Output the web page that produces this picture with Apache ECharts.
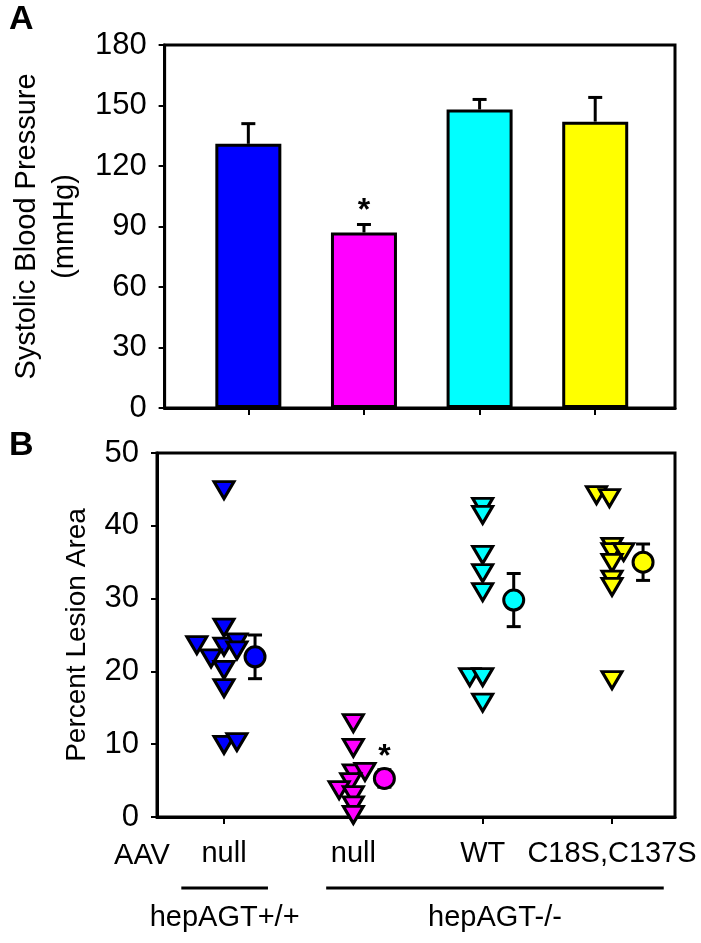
<!DOCTYPE html>
<html>
<head>
<meta charset="utf-8">
<script src="https://cdn.jsdelivr.net/npm/echarts@6/dist/echarts.min.js"></script>
<style>
  html, body { margin: 0; padding: 0; background: #fff; }
  #chart { width: 701px; height: 943px; }
</style>
</head>
<body>
<div id="chart"></div>
<script>
// groups (x positions on both panels)
const groupPos = [1, 2, 3, 4];
const aavLabels = ['null', 'null', 'WT', 'C18S,C137S'];
const groupColors = ['#0000ff', '#ff00ff', '#00ffff', '#ffff00'];

// A: systolic blood pressure (mmHg)
const bpMean = [131, 87, 148, 142];
const bpErrTop = [141, 91, 153, 154];
const bpStar = [[2, 97.5]];

// B: percent lesion area, one value per mouse + small horizontal offset
const lesionBlue = [44.9, 26.0, 23.6, 23.4, 24.0, 22.9, 21.8, 20.2, 17.7, 9.9, 10.3];
const offsetBlue = [0, 0, -0.21, 0, 0.1, 0.1, -0.1, 0, 0, 0, 0.1];
const lesionMagenta = [12.9, 9.5, 6.0, 6.2, 4.8, 3.7, 3.0, 1.6, 0.3];
const offsetMagenta = [0, 0, 0, 0.09, -0.02, -0.11, 0, 0, 0];
const lesionCyan = [42.6, 41.5, 36.0, 33.5, 30.9, 19.2, 19.2, 15.7];
const offsetCyan = [0, 0, 0, 0, 0, -0.1, 0, 0];
const lesionYellow = [44.2, 43.8, 37.1, 36.4, 36.4, 34.9, 32.6, 31.6, 18.8];
const offsetYellow = [-0.12, -0.02, 0, 0, 0.09, 0, 0, 0, 0];
const lesionMean = [22.0, 5.3, 29.8, 35.0];
const lesionSE = [3.0, 1.2, 3.65, 2.5];
const meanOffset = 0.24;
const lesionStar = [[2.24, 8.2]];

// genotype brackets under panel B
const bracketStart = [0.67, 1.79];
const bracketEnd = [1.34, 4.40];
const bracketLabels = ['hepAGT+/+', 'hepAGT-/-'];

const FONT = "'Liberation Sans', Arial, sans-serif";
const NARROW = "'Liberation Sans Narrow', 'Arial Narrow', 'Liberation Sans', sans-serif";
const chart = echarts.init(document.getElementById('chart'));

const lesionVals = [lesionBlue, lesionMagenta, lesionCyan, lesionYellow];
const lesionOffs = [offsetBlue, offsetMagenta, offsetCyan, offsetYellow];

const axisLineStyle = { color: '#000', width: 3 };
const tickStyle = { color: '#000', width: 2 };

function errorBar(params, api) {
  const x = api.value(0);
  const lo = api.coord([x, api.value(1)]);
  const hi = api.coord([x, api.value(2)]);
  const half = 7;
  const style = { stroke: '#000', lineWidth: 3 };
  return {
    type: 'group',
    children: [
      { type: 'line', shape: { x1: lo[0], y1: lo[1], x2: hi[0], y2: hi[1] }, style: style },
      { type: 'line', shape: { x1: hi[0] - half, y1: hi[1], x2: hi[0] + half, y2: hi[1] }, style: style },
      { type: 'line', shape: { x1: lo[0] - half, y1: lo[1], x2: lo[0] + half, y2: lo[1] }, style: style, invisible: api.value(3) === 0 }
    ]
  };
}

function starText(params, api) {
  const p = api.coord([api.value(0), api.value(1)]);
  return {
    type: 'text',
    x: p[0], y: p[1],
    style: { text: '*', font: 'bold 32px ' + FONT, fill: '#000', align: 'center', verticalAlign: 'middle' }
  };
}

const series = [];

// A bars
series.push({
  type: 'bar', xAxisIndex: 0, yAxisIndex: 0,
  barWidth: 66,
  data: bpMean.map((v, i) => ({
    value: [groupPos[i], v],
    itemStyle: { color: groupColors[i], borderColor: '#000', borderWidth: 3 }
  })),
  z: 2
});
series.push({
  type: 'custom', xAxisIndex: 0, yAxisIndex: 0,
  renderItem: errorBar,
  data: bpMean.map((v, i) => [groupPos[i], v, bpErrTop[i], 0]),
  z: 1
});
series.push({
  type: 'custom', xAxisIndex: 0, yAxisIndex: 0,
  renderItem: starText, data: bpStar, z: 5
});

// B individual points
lesionVals.forEach((vals, g) => {
  series.push({
    type: 'scatter', xAxisIndex: 1, yAxisIndex: 1,
    symbol: 'triangle', symbolRotate: 180, symbolSize: [20, 17],
    itemStyle: { color: groupColors[g], borderColor: '#000', borderWidth: 3, opacity: 1 },
    data: vals.map((v, i) => [groupPos[g] + lesionOffs[g][i], v]),
    z: 3
  });
});
// B mean +/- SE
series.push({
  type: 'custom', xAxisIndex: 1, yAxisIndex: 1,
  renderItem: errorBar,
  data: lesionMean.map((m, i) => [groupPos[i] + meanOffset, m - lesionSE[i], m + lesionSE[i], 1]),
  z: 3
});
series.push({
  type: 'scatter', xAxisIndex: 1, yAxisIndex: 1,
  symbol: 'circle', symbolSize: 20,
  data: lesionMean.map((m, i) => ({
    value: [groupPos[i] + meanOffset, m],
    itemStyle: { color: groupColors[i], borderColor: '#000', borderWidth: 3, opacity: 1 }
  })),
  z: 4
});
series.push({
  type: 'custom', xAxisIndex: 1, yAxisIndex: 1,
  renderItem: starText, data: lesionStar, z: 5
});
// genotype brackets
series.push({
  type: 'custom', xAxisIndex: 1, yAxisIndex: 1, clip: false,
  renderItem: function (params, api) {
    const a = api.coord([api.value(0), 0]);
    const b = api.coord([api.value(1), 0]);
    return {
      type: 'group',
      children: [
        { type: 'line', shape: { x1: a[0], y1: a[1] + 71, x2: b[0], y2: b[1] + 71 },
          style: { stroke: '#000', lineWidth: 3 } },
        { type: 'text', x: (a[0] + b[0]) / 2, y: a[1] + 101,
          style: { text: bracketLabels[params.dataIndex], font: '29px ' + FONT, fill: '#000',
                   align: 'center', verticalAlign: 'middle' } }
      ]
    };
  },
  data: bracketStart.map((s, i) => [s, bracketEnd[i]])
});

const option = {
  animation: false,
  backgroundColor: '#fff',
  textStyle: { fontFamily: FONT },
  grid: [
    { left: 157, right: 26, top: 45, bottom: 535, show: true, borderColor: '#000', borderWidth: 3 },
    { left: 157, right: 26, top: 453, bottom: 126, show: true, borderColor: '#000', borderWidth: 3 }
  ],
  xAxis: [
    {
      gridIndex: 0, type: 'value', min: 0.276, max: 4.69,
      axisLine: { show: true, onZero: false, lineStyle: axisLineStyle },
      axisTick: { show: true, customValues: groupPos, length: 7, lineStyle: tickStyle },
      axisLabel: { show: false },
      splitLine: { show: false }
    },
    {
      gridIndex: 1, type: 'value', min: 0.482, max: 4.487,
      axisLine: { show: true, onZero: false, lineStyle: axisLineStyle },
      axisTick: { show: true, customValues: groupPos, length: 7, lineStyle: tickStyle },
      axisLabel: {
        customValues: groupPos, margin: 22, fontSize: 29, color: '#000', fontFamily: FONT,
        formatter: v => aavLabels[groupPos.indexOf(v)]
      },
      splitLine: { show: false }
    }
  ],
  yAxis: [
    {
      gridIndex: 0, type: 'value', min: 0, max: 180, interval: 30,
      axisLine: { show: true, onZero: false, lineStyle: axisLineStyle },
      axisTick: { show: true, length: 6, lineStyle: tickStyle },
      axisLabel: { fontSize: 31, color: '#000', margin: 18, fontFamily: NARROW },
      splitLine: { show: false },
      name: 'Systolic Blood Pressure\n(mmHg)', nameLocation: 'middle', nameGap: 72, nameRotate: 90,
      nameTextStyle: { fontSize: 29, color: '#000', lineHeight: 38, fontFamily: FONT }
    },
    {
      gridIndex: 1, type: 'value', min: 0, max: 50, interval: 10,
      axisLine: { show: true, onZero: false, lineStyle: axisLineStyle },
      axisTick: { show: true, length: 6, lineStyle: tickStyle },
      axisLabel: { fontSize: 31, color: '#000', margin: 18, fontFamily: NARROW },
      splitLine: { show: false },
      name: 'Percent Lesion Area', nameLocation: 'middle', nameGap: 65, nameRotate: 90,
      nameTextStyle: { fontSize: 28, color: '#000', lineHeight: 30, fontFamily: FONT }
    }
  ],
  graphic: [
    { type: 'text', left: 9, top: 3, style: { text: 'A', font: 'bold 34px ' + FONT, fill: '#000' } },
    { type: 'text', left: 9, top: 429, style: { text: 'B', font: 'bold 34px ' + FONT, fill: '#000' } },
    { type: 'text', x: 142, y: 856, style: { text: 'AAV', font: '29px ' + FONT, fill: '#000', align: 'center', verticalAlign: 'middle' } }
  ],
  series: series
};

chart.setOption(option);
</script>
</body>
</html>
